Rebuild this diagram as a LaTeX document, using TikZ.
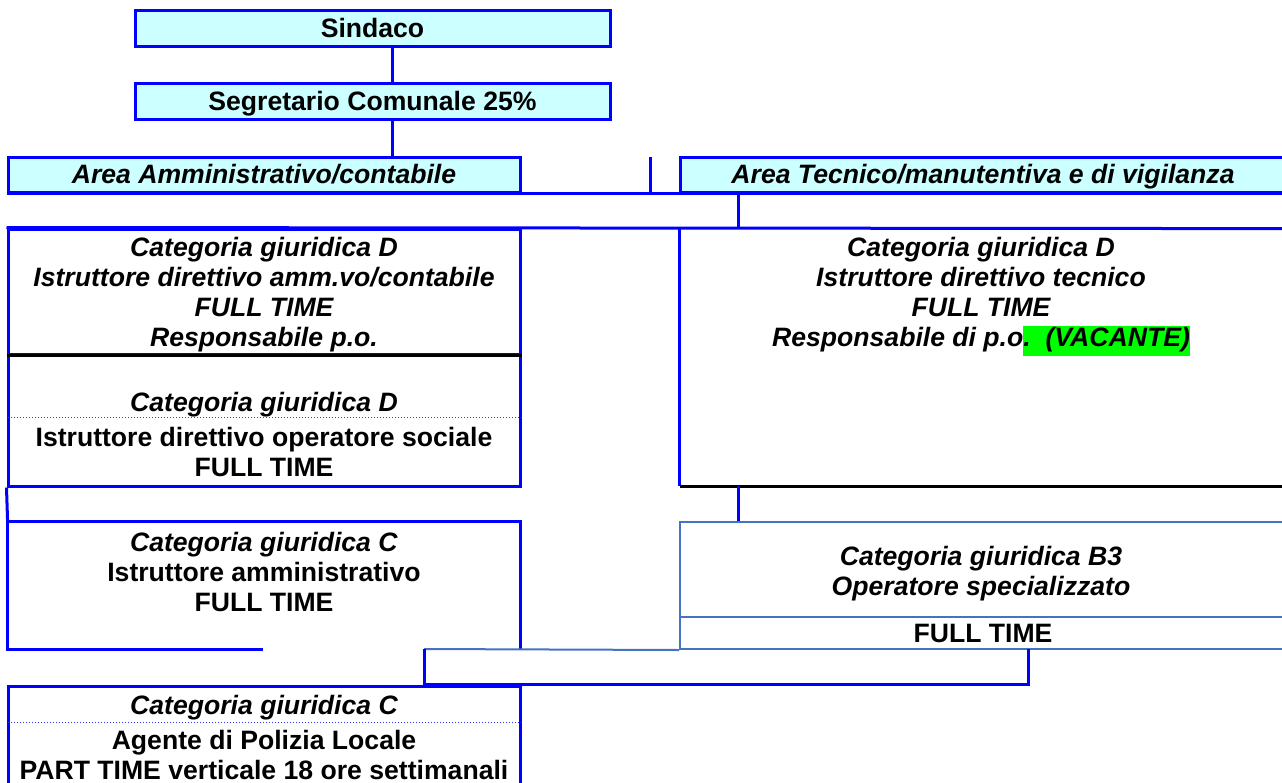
\documentclass[tikz,border=0pt]{standalone}
\usepackage{fontspec}
\setmainfont{Liberation Sans}
\usepackage{xcolor}
\usepackage{tikz}
\usetikzlibrary{positioning}
\definecolor{paleCyan}{HTML}{CCFFFF}
\definecolor{frameBlue}{HTML}{0000FF}
\definecolor{lightFrame}{HTML}{4472C4}
\definecolor{markGreen}{HTML}{00FF00}
\newcommand{\MyFont}{\fontsize{13.3}{15}\selectfont\bfseries}
\newcommand{\MyMark}[1]{{\setlength{\fboxsep}{0pt}\colorbox{markGreen}{\strut #1}}}
\tikzset{
  MyBox/.style={
    rectangle, inner sep=0pt, align=center,
    draw=frameBlue, line width=1.5pt,
    font=\MyFont,
  },
  MyHead/.style={MyBox, fill=paleCyan, text height=9.5pt, text depth=0.5pt},
  MyArea/.style={MyHead, font=\MyFont\itshape},
  MyThinBox/.style={MyBox, draw=lightFrame, line width=1pt},
  MyText/.style={inner sep=0pt, align=center, font=\MyFont},
  MyLine/.style={draw=frameBlue, line width=1.5pt},
  MyThin/.style={draw=lightFrame, line width=1pt},
  MyDots/.style={draw=frameBlue!80, densely dotted, line width=0.5pt},
}

\begin{document}
\begin{tikzpicture}[x=0.5pt,y=-0.5pt]
\useasboundingbox (0,0) rectangle (1282,783);
\node[MyHead, minimum width=237.5pt, minimum height=18pt] (SIND) at (372.5,28) {Sindaco};
\node[MyHead, minimum width=237.5pt, minimum height=18pt] (SEGR) at (372.5,101) {Segretario Comunale 25\%};
\node[MyArea, minimum width=256pt, minimum height=17.5pt] (AMM) at (264,174.5) {Area Amministrativo/contabile};
\node[MyArea, minimum width=303pt, minimum height=17.5pt] (TEC) at (983,174.5) {Area Tecnico/manutentiva e di vigilanza};
\coordinate (TRK) at (392,0);
\coordinate (TRK2) at (738,0);
\coordinate (STUB) at (650,157);
\draw[MyLine] (TRK |- SIND.south) -- (TRK |- SEGR.north);
\draw[MyLine] (TRK |- SEGR.south) -- (TRK |- AMM.north);
\draw[MyLine] (STUB) -- (STUB |- AMM.south);
\draw[MyLine] (AMM.south west) -- (TEC.south east);

% area amministrativa
\node[MyBox, minimum width=256pt, minimum height=62.5pt] (DIRA) at (264,291.5) {};
\node[MyText, font=\MyFont\itshape] (DIRAtxt) at (264,295) {Categoria giuridica D\\Istruttore direttivo amm.vo/contabile\\FULL TIME\\Responsabile p.o.};
\node[MyBox, minimum width=256pt, minimum height=66pt] (SOC) at (264,420) {};
\draw[black, line width=1.5pt] (DIRA.south west) -- (DIRA.south east);
\node[MyText, font=\MyFont\itshape] (SOCcat) at (264,405) {Categoria giuridica D};
\coordinate (DOT1) at (8,417);
\draw[MyDots] (DOT1) -- (DOT1 -| SOC.east);
\node[MyText] (SOCrole) at (264,452) {Istruttore direttivo operatore sociale\\FULL TIME};
\node[minimum width=256pt, minimum height=63.5pt, inner sep=0pt] (ISTR) at (264,585.5) {};
\node[MyText] (ISTRtxt) at (264,571.5) {\textit{Categoria giuridica C}\\Istruttore amministrativo\\FULL TIME};
\draw[MyLine] (SOC.south west) -- (ISTR.north west);
\draw[MyLine] ([xshift=127.5pt]ISTR.south west) -- (ISTR.south west) -- (ISTR.north west) -- (ISTR.north east) -- (ISTR.south east);

% area tecnica
\node[minimum width=303pt, minimum height=128.5pt, inner sep=0pt] (DIRT) at (983,357.5) {};
\node[MyText, font=\MyFont\itshape] (DIRTtxt) at (981,296.5) {Categoria giuridica D\\Istruttore direttivo tecnico\\FULL TIME\\Responsabile di p.o\MyMark{.\ \ (VACANTE)}};
\draw[MyLine] (DIRA.north west) -- (DIRT.north east);
\draw[MyLine] (TRK2 |- TEC.south) -- (TRK2 |- DIRT.north);
\draw[MyLine] (DIRT.north west) -- (DIRT.south west);
\draw[black, line width=1.5pt] (DIRT.south west) -- (DIRT.south east);
\node[MyThinBox, minimum width=303pt, minimum height=47.5pt] (B3) at (983,569.5) {};
\node[MyText, font=\MyFont\itshape] (B3txt) at (981,574) {Categoria giuridica B3\\Operatore specializzato};
\node[MyThinBox, minimum width=303pt, minimum height=16pt] (B3F) at (983,633) {FULL TIME};
\draw[MyLine] (TRK2 |- DIRT.south) -- (TRK2 |- B3.north);

% vigilanza
\node[MyBox, minimum width=256pt, minimum height=57pt] (POL) at (264,743) {};
\coordinate (BL) at (424,649);
\coordinate (BR) at (1028,649);
\draw[MyThin] (BL) -- (B3F.south west);
\draw[MyLine] (BL) -- (BL |- POL.north) -- (BR |- POL.north) -- (BR);
\node[MyText, font=\MyFont\itshape] (POLcat) at (264,707.5) {Categoria giuridica C};
\coordinate (DOT2) at (8,722);
\draw[MyDots] (DOT2) -- (DOT2 -| POL.east);
\node[MyText] (POLrole) at (264,755) {Agente di Polizia Locale\\PART TIME verticale 18 ore settimanali};
\end{tikzpicture}
\end{document}
